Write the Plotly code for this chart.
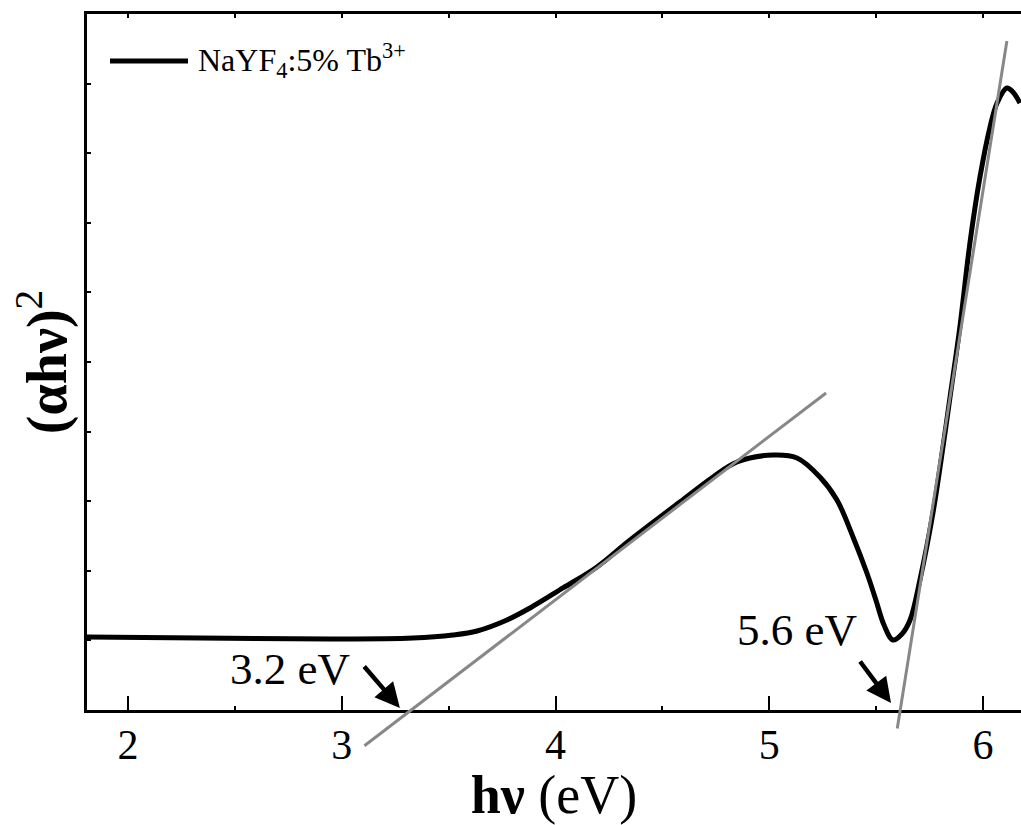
import plotly.graph_objects as go

# ---- data ----
hv = [1.808, 2.337, 2.945, 3.333, 3.52, 3.633, 3.773, 3.881, 4.035, 4.194,
      4.349, 4.582, 4.737, 4.849, 5.018, 5.130, 5.237, 5.317, 5.392, 5.457,
      5.499, 5.537, 5.579, 5.621, 5.659, 5.705, 5.766, 5.813, 5.846, 5.892,
      5.939, 5.986, 6.033, 6.066, 6.112, 6.140, 6.173]
ahv2 = [1.049, 1.034, 1.020, 1.034, 1.078, 1.135, 1.293, 1.466, 1.753, 2.055,
        2.443, 2.989, 3.348, 3.563, 3.664, 3.621, 3.348, 3.017, 2.486, 1.968,
        1.580, 1.221, 1.006, 1.092, 1.293, 1.868, 2.830, 3.779, 4.497, 5.503,
        6.710, 7.658, 8.376, 8.721, 8.937, 8.879, 8.721]

tangent1_x = [3.099, 5.266]
tangent1_y = [-0.53, 4.555]
tangent2_x = [5.598, 6.112]
tangent2_y = [-0.287, 9.612]

arrow1_tail = (3.099, 0.647)
arrow1_head = (3.272, 0.029)
arrow2_tail = (5.420, 0.718)
arrow2_head = (5.570, 0.100)

label1 = ("3.2 eV", 2.758, 0.589)
label2 = ("5.6 eV", 5.130, 1.149)

legend_text = "NaYF<sub>4</sub>:5% Tb<sup>3+</sup>"
x_tickvals = [2, 3, 4, 5, 6]
x_range = [1.808, 6.178]
y_range = [0, 10]

FONT = "Liberation Serif"

fig = go.Figure()
fig.add_trace(go.Scatter(x=hv, y=ahv2, mode="lines",
                         line=dict(color="black", width=5, shape="spline", smoothing=1.0),
                         showlegend=False, hoverinfo="skip"))
# invisible trace for the top axis
fig.add_trace(go.Scatter(x=x_range, y=y_range, xaxis="x2", yaxis="y", mode="lines",
                         line=dict(width=0), opacity=0, showlegend=False, hoverinfo="skip"))

annotations = []
for tx, ty in [(tangent1_x, tangent1_y), (tangent2_x, tangent2_y)]:
    annotations.append(dict(x=tx[1], y=ty[1], ax=tx[0], ay=ty[0], xref="x", yref="y",
                            axref="x", ayref="y", text="", showarrow=True, arrowhead=0,
                            arrowwidth=3, arrowcolor="#888888", standoff=0, startstandoff=0))
for tail, head in [(arrow1_tail, arrow1_head), (arrow2_tail, arrow2_head)]:
    annotations.append(dict(x=head[0], y=head[1], ax=tail[0], ay=tail[1], xref="x", yref="y",
                            axref="x", ayref="y", text="", showarrow=True, arrowhead=2,
                            arrowsize=1.1, arrowwidth=4.5, arrowcolor="black",
                            standoff=0, startstandoff=0))
for txt, lx, ly in [label1, label2]:
    annotations.append(dict(x=lx, y=ly, xref="x", yref="y", text=txt, showarrow=False,
                            font=dict(family=FONT, size=45, color="black")))
# legend (custom, long line sample)
LEG_Y = 1 - (61 - 14) / 696
annotations.append(dict(x=(196 - 87) / 934, y=LEG_Y, xref="paper", yref="paper",
                        xanchor="left", yanchor="middle", text=legend_text, showarrow=False,
                        font=dict(family=FONT, size=32, color="black")))
shapes = [dict(type="line", xref="paper", yref="paper",
               x0=(110 - 87) / 934, x1=(188 - 87) / 934, y0=LEG_Y, y1=LEG_Y,
               line=dict(color="black", width=5))]

fig.update_layout(
    width=1021, height=825,
    margin=dict(l=87, r=0, t=14, b=115),
    plot_bgcolor="white", paper_bgcolor="white",
    font=dict(family=FONT, color="black"),
    annotations=annotations, shapes=shapes,
    xaxis=dict(range=x_range, tickvals=x_tickvals, ticks="inside", ticklen=14, tickwidth=2,
               tickcolor="black", showline=True, linecolor="black", linewidth=3,
               showgrid=False, zeroline=False,
               minor=dict(dtick=0.5, ticks="inside", ticklen=4, tickwidth=2, tickcolor="black"),
               tickfont=dict(family=FONT, size=42), ticklabelstandoff=-4,
               title=dict(text="<b>hν</b> (eV)", font=dict(family=FONT, size=54), standoff=2)),
    xaxis2=dict(range=x_range, overlaying="x", side="top", dtick=0.5, tick0=0,
                ticks="inside", ticklen=4, tickwidth=2, tickcolor="black",
                showline=True, linecolor="black", linewidth=3, showticklabels=False,
                showgrid=False, zeroline=False),
    yaxis=dict(range=y_range, dtick=1, tick0=0, ticks="inside", ticklen=4, tickwidth=2,
               tickcolor="black", showline=True, linecolor="black", linewidth=3,
               showticklabels=False, showgrid=False, zeroline=False,
               title=dict(text="<b>(αhν)</b><sup>2</sup>", font=dict(family=FONT, size=56),
                          standoff=0)),
)

fig.write_html("out.html", config={"displayModeBar": False},
               post_script="document.body.style.margin='0';")
